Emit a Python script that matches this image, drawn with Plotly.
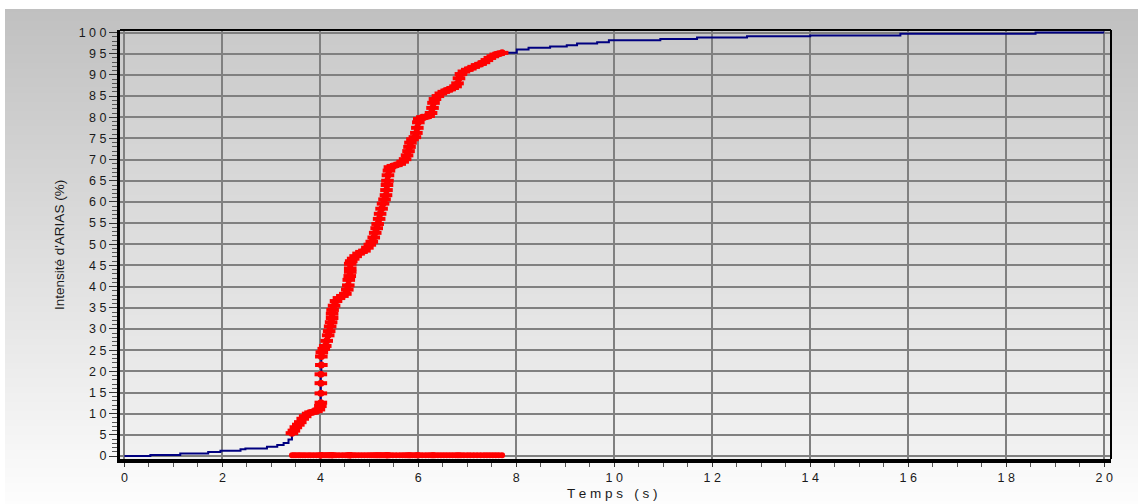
import plotly.graph_objects as go

# ---- cumulative Arias intensity (%) against time (s) ----
# build-up before the significant phase (blue only)
t_pre = [0.0, 0.53, 1.14, 1.71, 1.96, 2.37, 2.47, 2.91, 3.12, 3.25, 3.35]
ia_pre = [0.0, 0.25, 0.6, 0.95, 1.25, 1.6, 1.8, 2.2, 2.6, 3.1, 3.9]

# significant phase, 5 % -> 95 % (drawn in red)
t_sig = [3.42, 3.46, 3.50, 3.55, 3.59, 3.64, 3.69, 3.75, 3.80, 3.86, 3.92, 3.97,
         4.00, 4.01, 4.01, 4.01, 4.01, 4.02, 4.02, 4.03, 4.07, 4.10, 4.13, 4.16,
         4.18, 4.20, 4.22, 4.24, 4.24, 4.25, 4.28, 4.32, 4.38, 4.45, 4.51, 4.55,
         4.57, 4.58, 4.60, 4.61, 4.61, 4.61, 4.63, 4.67, 4.72, 4.78, 4.84, 4.90,
         4.96, 5.01, 5.05, 5.09, 5.12, 5.15, 5.17, 5.20, 5.22, 5.25, 5.28, 5.31,
         5.34, 5.35, 5.36, 5.37, 5.38, 5.40, 5.42, 5.48, 5.55, 5.62, 5.68, 5.73,
         5.77, 5.80, 5.82, 5.84, 5.88, 5.93, 5.96, 5.98, 6.00, 6.02, 6.08, 6.15,
         6.21, 6.26, 6.29, 6.31, 6.34, 6.40, 6.46, 6.52, 6.58, 6.64, 6.70, 6.76,
         6.80, 6.83, 6.87, 6.93, 7.00, 7.06, 7.13, 7.20, 7.27, 7.34, 7.40, 7.46,
         7.52, 7.58, 7.64, 7.71]
ia_sig = [5.4, 6.0, 6.8, 7.4, 8.0, 8.8, 9.4, 10.0, 10.3, 10.5, 10.6, 11.0,
          11.8, 12.6, 14.8, 17.2, 19.3, 21.5, 23.5, 24.5, 25.3, 26.0, 27.2, 28.5,
          29.5, 30.6, 31.6, 32.6, 33.6, 34.5, 35.5, 36.6, 37.3, 37.8, 38.3, 39.3,
          40.3, 41.6, 42.5, 43.5, 44.3, 45.4, 46.0, 46.6, 47.2, 47.8, 48.2, 48.5,
          49.2, 49.9, 50.6, 51.6, 52.7, 53.8, 54.8, 56.0, 57.2, 58.4, 59.6, 60.6,
          61.6, 62.8, 64.0, 65.0, 66.3, 67.4, 68.2, 68.5, 68.7, 69.0, 69.5, 70.1,
          71.0, 72.0, 73.0, 74.0, 74.8, 75.3, 76.3, 77.5, 78.8, 79.6, 80.0, 80.1,
          80.3, 81.0, 82.2, 83.4, 84.3, 85.0, 85.6, 86.0, 86.3, 86.6, 86.9, 87.3,
          88.0, 89.2, 90.2, 90.8, 91.2, 91.5, 91.9, 92.3, 92.6, 93.0, 93.5, 94.0,
          94.4, 94.8, 95.0, 95.2]

# tail after 95 % (blue only)
t_post = [8.01, 8.25, 8.69, 9.03, 9.24, 9.65, 9.89, 10.94, 11.69, 12.71, 14.0,
          15.84, 18.6, 20.0]
ia_post = [96.0, 96.4, 96.7, 97.0, 97.4, 97.7, 98.2, 98.5, 98.8, 99.1, 99.3,
           99.7, 100.0, 100.0]

x_tick_vals = [0, 2, 4, 6, 8, 10, 12, 14, 16, 18, 20]
x_tick_text = ["0", "2", "4", "6", "8", "1 0", "1 2", "1 4", "1 6", "1 8", "2 0"]
y_tick_vals = [0, 5, 10, 15, 20, 25, 30, 35, 40, 45, 50,
               55, 60, 65, 70, 75, 80, 85, 90, 95, 100]
y_tick_text = ["0", "5", "1 0", "1 5", "2 0", "2 5", "3 0", "3 5", "4 0", "4 5",
               "5 0", "5 5", "6 0", "6 5", "7 0", "7 5", "8 0", "8 5", "9 0",
               "9 5", "1 0 0"]

# ---- canvas geometry (pixels) ----
W, H = 1138, 504
ML, MR, MT, MB = 120, 27, 30, 45
PW, PH = W - ML - MR, H - MT - MB


def px_x(px):
    return (px - ML) / PW


def px_y(py):
    return (H - MB - py) / PH


def gradient(x0, y0, x1, y1, c_top, c_bot, step=3):
    """Vertical grey gradient as a stack of thin rectangles (pixel coords)."""
    bands = []
    n = max(1, int((y1 - y0) / step))
    for i in range(n):
        ya = y0 + (y1 - y0) * i / n
        yb = y0 + (y1 - y0) * (i + 1) / n + 0.6
        f = (i + 0.5) / n
        c = [round(c_top[k] + (c_bot[k] - c_top[k]) * f) for k in range(3)]
        bands.append(dict(type="rect", xref="paper", yref="paper",
                          x0=px_x(x0), x1=px_x(x1), y0=px_y(min(yb, y1)), y1=px_y(ya),
                          line=dict(width=0), fillcolor=f"rgb({c[0]},{c[1]},{c[2]})",
                          layer="below"))
    return bands


shapes = []
shapes += gradient(5, 9, W, H, (192, 192, 192), (253, 253, 253))
shapes += gradient(ML, MT, W - MR, H - MB, (202, 202, 202), (242, 242, 242))
# top and right frame of the plotting area
shapes.append(dict(type="line", xref="paper", yref="paper", x0=0, x1=1, y0=1, y1=1,
                   line=dict(color="black", width=2), layer="above"))
shapes.append(dict(type="line", xref="paper", yref="paper", x0=1, x1=1, y0=0, y1=1,
                   line=dict(color="black", width=2), layer="above"))

# red curve broken across the steep jumps so the blue line shows between dots
red_t, red_v = [], []
for i, (t, v) in enumerate(zip(t_sig, ia_sig)):
    if i > 0 and v - ia_sig[i - 1] >= 1.0 and t - t_sig[i - 1] <= 0.011:
        red_t.append(None)
        red_v.append(None)
    red_t.append(t)
    red_v.append(v)

fig = go.Figure()

fig.add_trace(go.Scatter(
    x=t_pre + t_sig + t_post, y=ia_pre + ia_sig + ia_post,
    mode="lines", line=dict(color="#000080", width=2, shape="hv"),
    hoverinfo="skip", showlegend=False))

fig.add_trace(go.Scatter(
    x=red_t, y=red_v, mode="lines+markers", connectgaps=False,
    line=dict(color="#ff0000", width=5),
    marker=dict(symbol="circle", size=7, color="#ff0000",
                line=dict(width=0)),
    showlegend=False))
fig.add_trace(go.Scatter(
    x=t_sig, y=ia_sig, mode="markers",
    marker=dict(symbol="line-ew", size=9, color="#ff0000",
                line=dict(color="#ff0000", width=4)),
    hoverinfo="skip", showlegend=False))

# significant-duration band on the time axis
fig.add_trace(go.Scatter(
    x=t_sig, y=[0.2] * len(t_sig), mode="lines+markers",
    line=dict(color="#ff0000", width=5),
    marker=dict(symbol="circle", size=6, color="#ff0000"),
    cliponaxis=False, showlegend=False))

font_family = "Liberation Sans, Arial, sans-serif"
tick_font = dict(family=font_family, size=12.5, color="#1a1a1a")

fig.update_layout(
    width=W, height=H,
    margin=dict(l=ML, r=MR, t=MT, b=MB, pad=0),
    paper_bgcolor="white", plot_bgcolor="rgba(0,0,0,0)",
    shapes=shapes,
    xaxis=dict(
        range=[-0.09, 20.14], tickmode="array", tickvals=x_tick_vals, ticktext=x_tick_text,
        ticks="outside", ticklen=4, tickwidth=1, tickcolor="#333",
        minor=dict(tickmode="linear", tick0=0, dtick=0.5, ticks="outside", ticklen=4,
                   tickcolor="#555", showgrid=False),
        showgrid=True, gridcolor="#808080", gridwidth=2,
        zeroline=True, zerolinecolor="#808080", zerolinewidth=2,
        showline=True, linecolor="black", linewidth=4,
        tickfont=tick_font, fixedrange=True),
    yaxis=dict(
        range=[-0.7, 100.6], tickmode="array", tickvals=y_tick_vals, ticktext=y_tick_text,
        ticks="outside", ticklen=8, tickwidth=1, tickcolor="#333",
        minor=dict(tickmode="linear", tick0=0, dtick=1, ticks="outside", ticklen=5,
                   tickcolor="#555", showgrid=False),
        showgrid=True, gridcolor="#808080", gridwidth=2,
        zeroline=True, zerolinecolor="#808080", zerolinewidth=2,
        showline=True, linecolor="black", linewidth=3,
        tickfont=tick_font, fixedrange=True),
    annotations=[
        dict(text="T e m p s   ( s )", xref="paper", yref="paper",
             x=px_x(612), y=px_y(493), showarrow=False,
             xanchor="center", yanchor="middle",
             font=dict(family=font_family, size=13.5, color="#1a1a1a")),
        dict(text="Intensité d'ARIAS (%)", xref="paper", yref="paper",
             x=px_x(59), y=px_y(245), showarrow=False, textangle=-90,
             xanchor="center", yanchor="middle",
             font=dict(family=font_family, size=13.5, color="#1a1a1a")),
    ],
)

fig.write_html("out.html")
